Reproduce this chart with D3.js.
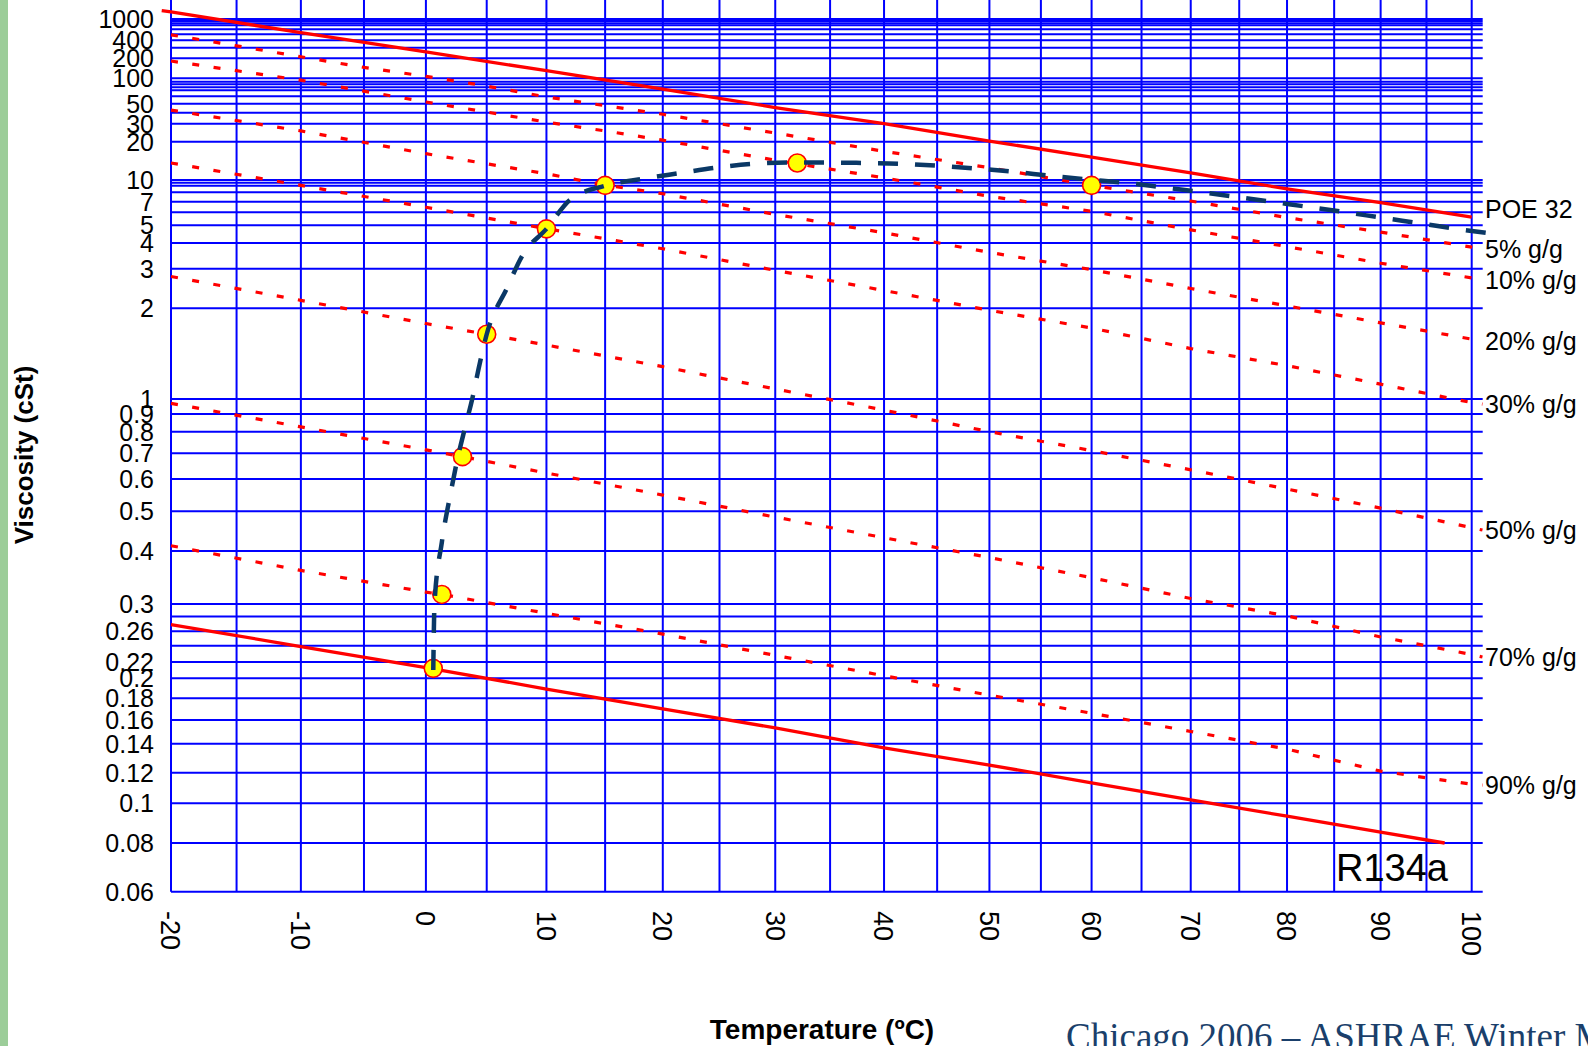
<!doctype html>
<html>
<head>
<meta charset="utf-8">
<script src="https://cdnjs.cloudflare.com/ajax/libs/d3/7.8.5/d3.min.js"></script>
<style>
body { margin: 0; background: #fff; overflow: hidden; }
svg { display: block; font-family: "Liberation Sans", Arial, sans-serif; }
.grid line { stroke: #0000ff; stroke-width: 2px; }
.oil { fill: none; stroke: #ff0000; stroke-width: 3.3px; }
.mix { fill: none; stroke: #ff0000; stroke-width: 3.2px; stroke-dasharray: 7 14.5; }
.trend { fill: none; stroke: #0a3866; stroke-width: 4.5px; stroke-dasharray: 20 17; }
.point { fill: #ffff00; stroke: #ff0000; stroke-width: 1.6px; }
.tick { font-size: 25px; fill: #000; }
.xtick { font-size: 27px; fill: #000; }
</style>
</head>
<body>
<svg width="1588" height="1046"></svg>
<script>
// temperature axis (degC), grid every 5 degrees
var xTicks = [-20, -10, 0, 10, 20, 30, 40, 50, 60, 70, 80, 90, 100];

// viscosity axis labels (cSt)
var yTicks = [1000, 400, 200, 100, 50, 30, 20, 10, 7, 5, 4, 3, 2, 1, 0.9, 0.8, 0.7, 0.6,
  0.5, 0.4, 0.3, 0.26, 0.22, 0.2, 0.18, 0.16, 0.14, 0.12, 0.1, 0.08, 0.06];

// the chart paper is not a plain log scale: each printed grid line and where it sits
var yPaper = [[1000, 19], [900, 21], [800, 23.3], [700, 25.3], [600, 29.3], [500, 34.3],
  [400, 40.3], [300, 47.7], [200, 58.3], [100, 78.3], [90, 81.7], [80, 84.3], [75, 87.3],
  [70, 90.3], [60, 96.3], [50, 103.7], [40, 112.7], [30, 123.7], [20, 141.7], [10, 180],
  [9.5, 182.7], [9, 185.7], [8, 192.3], [7, 201.7], [6, 212.3], [5, 225.3], [4, 243],
  [3, 268.7], [2, 308.3], [1, 399], [0.9, 414], [0.8, 431.7], [0.7, 453.3], [0.6, 479],
  [0.5, 511.3], [0.4, 551], [0.3, 604], [0.28, 616.5], [0.26, 631.3], [0.24, 645.8],
  [0.22, 662], [0.2, 678.3], [0.18, 698.3], [0.16, 720], [0.14, 743.7], [0.12, 772.7],
  [0.1, 803.3], [0.08, 843], [0.06, 891.7]];

// [temperature degC, viscosity cSt]
var poe32 = [[-20.7, 1550], [-20, 1450], [-10, 530], [0, 255], [10, 130], [20, 72], [30, 45.5],
  [40, 30], [50, 20.3], [60, 15.1], [70, 11.4], [80, 8.5], [90, 6.9], [100, 5.6]];
var r134a = [[-20, 0.269], [-10, 0.239], [0, 0.213], [10, 0.189], [20, 0.17], [30, 0.153],
  [40, 0.137], [50, 0.125], [60, 0.113], [70, 0.102], [80, 0.093], [90, 0.085], [97, 0.08]];

var mix5 = [[-20, 490], [-15, 323], [-10, 212], [-5, 146], [0, 107], [5, 77], [10, 59], [20, 38.4],
  [30, 24.3], [40, 16.8], [50, 12.5], [60, 9.05], [70, 7.07], [80, 5.57], [90, 4.59], [100, 3.82], [101.2, 3.73]];
var mix10 = [[-20, 182], [-10, 94.3], [0, 52.2], [10, 31.3], [15, 25.5], [20, 20.7], [30, 14.3],
  [40, 10.4], [50, 7.56], [60, 6.09], [70, 4.72], [80, 3.84], [90, 3.19], [100, 2.73], [101.2, 2.68]];
var mix20 = [[-20, 42.7], [-10, 25.5], [0, 16.1], [10, 11.2], [15, 9.1], [20, 7.84], [30, 5.83],
  [40, 4.55], [50, 3.6], [60, 2.97], [70, 2.45], [80, 2.05], [90, 1.79], [100, 1.58], [101.2, 1.56]];
var mix30 = [[-20, 13.6], [-10, 9.05], [0, 6.46], [10, 4.79], [20, 3.75], [30, 2.95], [40, 2.4],
  [50, 1.97], [60, 1.72], [70, 1.47], [80, 1.29], [90, 1.12], [100, 0.975], [101.2, 0.965]];
var mix50 = [[-20, 2.77], [-10, 2.17], [0, 1.78], [5, 1.64], [10, 1.51], [20, 1.28], [30, 1.08],
  [40, 0.925], [50, 0.8], [60, 0.712], [70, 0.634], [80, 0.567], [90, 0.509], [100, 0.456], [101.2, 0.45]];
var mix70 = [[-20, 0.97], [-10, 0.826], [0, 0.715], [3, 0.686], [10, 0.622], [20, 0.548], [30, 0.484],
  [40, 0.431], [50, 0.386], [60, 0.346], [70, 0.309], [80, 0.281], [90, 0.252], [100, 0.229], [101.2, 0.226]];
var mix90 = [[-20, 0.412], [-10, 0.36], [0, 0.32], [1.3, 0.316], [10, 0.285], [20, 0.256], [30, 0.228],
  [40, 0.203], [50, 0.183], [60, 0.166], [70, 0.15], [80, 0.136], [90, 0.121], [100, 0.112], [101.2, 0.1115]];

var mixNames = ["5% g/g", "10% g/g", "20% g/g", "30% g/g", "50% g/g", "70% g/g", "90% g/g"];
var mixes = [mix5, mix10, mix20, mix30, mix50, mix70, mix90];

// measured points and the dashed trend drawn through them
var measured = [[0.6, 0.212], [1.3, 0.316], [3.0, 0.686], [5.0, 1.64], [10, 4.78], [15, 9.06],
  [32, 13.6], [60, 9.06]];
var trend = [[0.6, 0.21], [0.7, 0.3], [1.3, 0.42], [2.0, 0.55], [2.6, 0.68], [3.2, 0.82], [3.8, 1.0],
  [4.4, 1.3], [5.0, 1.64], [6.7, 2.47], [8.0, 3.5], [10, 4.78], [12, 7.2], [15, 9.0], [18.2, 10.2],
  [21.4, 11.3], [24.7, 12.5], [28, 13.4], [31.3, 13.7], [35.3, 13.7], [38.3, 13.6], [41.8, 13.4],
  [45.3, 12.9], [48.8, 12.3], [52.4, 11.6], [55.9, 10.8], [59.7, 10.1], [63.3, 9.5], [67.1, 8.75],
  [71, 8.04], [74.8, 7.48], [78.5, 6.97], [82.4, 6.47], [86.3, 6.0], [90.3, 5.54], [94.4, 5.13],
  [98.4, 4.77], [102.2, 4.51]];

var svg = d3.select("svg");

// temperature runs on a log of absolute temperature
var x = d3.scaleLog().domain([253.15, 373.15]).range([171, 1471.7]);
function tx(t) { return x(t + 273.15); }

var y = d3.scaleLog()
  .domain(yPaper.map(d => d[0]).reverse())
  .range(yPaper.map(d => d[1]).reverse());

var left = tx(-20), right = tx(100) + 11, top = 9, bottom = y(0.06);

// green slide edge
svg.append("rect").attr("x", 0).attr("y", 0).attr("width", 8).attr("height", 1046).attr("fill", "#9ccd99");

var grid = svg.append("g").attr("class", "grid");
grid.selectAll("line.h")
  .data(yPaper)
  .enter()
  .append("line")
  .attr("class", "h")
  .attr("x1", left).attr("x2", right)
  .attr("y1", d => y(d[0])).attr("y2", d => y(d[0]));
grid.selectAll("line.v")
  .data(d3.range(-20, 101, 5))
  .enter()
  .append("line")
  .attr("class", "v")
  .attr("x1", d => tx(d)).attr("x2", d => tx(d))
  .attr("y1", top).attr("y2", bottom);

var line = d3.line().x(d => tx(d[0])).y(d => y(d[1]));

svg.selectAll("path.mix")
  .data(mixes)
  .enter()
  .append("path")
  .attr("class", "mix")
  .attr("d", line);

svg.append("path").attr("class", "oil").attr("d", line(poe32));
svg.append("path").attr("class", "oil").attr("d", line(r134a));

svg.selectAll("circle.point")
  .data(measured)
  .enter()
  .append("circle")
  .attr("class", "point")
  .attr("cx", d => tx(d[0]))
  .attr("cy", d => y(d[1]))
  .attr("r", 9);

svg.append("path")
  .attr("class", "trend")
  .attr("d", d3.line().x(d => tx(d[0])).y(d => y(d[1])).curve(d3.curveMonotoneX)(trend));

// axis labels
svg.append("g")
  .selectAll("text")
  .data(yTicks)
  .enter()
  .append("text")
  .attr("class", "tick")
  .attr("x", 154)
  .attr("y", d => y(d))
  .attr("dy", "0.36em")
  .style("text-anchor", "end")
  .text(d => d);

svg.append("g")
  .selectAll("text")
  .data(xTicks)
  .enter()
  .append("text")
  .attr("class", "xtick")
  .attr("transform", d => "translate(" + tx(d) + ",911) rotate(90)")
  .attr("dy", "0.36em")
  .text(d => d);

// series labels at the right end
svg.append("text")
  .attr("class", "tick")
  .attr("x", 1485)
  .attr("y", y(poe32[poe32.length - 1][1]) - 8)
  .attr("dy", "0.36em")
  .text("POE 32");
svg.append("g")
  .selectAll("text")
  .data(mixes)
  .enter()
  .append("text")
  .attr("class", "tick")
  .attr("x", 1485)
  .attr("y", d => y(d[d.length - 1][1]))
  .attr("dy", "0.36em")
  .text((d, i) => mixNames[i]);

svg.append("text")
  .attr("x", 1336).attr("y", 881)
  .style("font-size", "38px")
  .text("R134a");

svg.append("text")
  .attr("transform", "translate(33,455) rotate(-90)")
  .style("text-anchor", "middle")
  .style("font-weight", "bold")
  .style("font-size", "26px")
  .text("Viscosity (cSt)");

svg.append("text")
  .attr("x", 822).attr("y", 1039)
  .style("text-anchor", "middle")
  .style("font-weight", "bold")
  .style("font-size", "28px")
  .text("Temperature (ºC)");

svg.append("text")
  .attr("x", 1066).attr("y", 1049)
  .style("font-family", "'Liberation Serif', 'Times New Roman', serif")
  .style("font-size", "37px")
  .style("fill", "#1a3f6b")
  .text("Chicago 2006 – ASHRAE Winter Meeting");
</script>
</body>
</html>
